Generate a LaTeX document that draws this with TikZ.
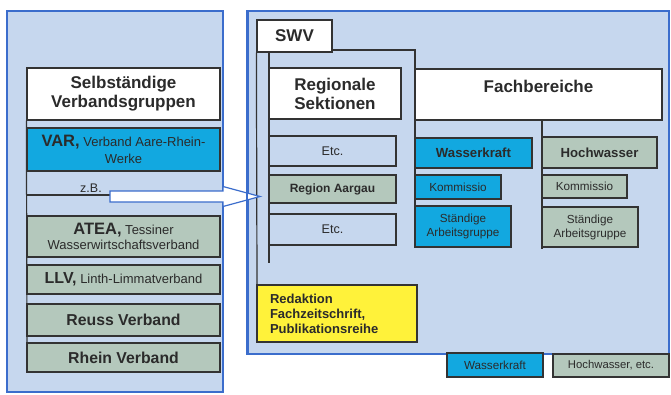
\documentclass[tikz,border=0pt]{standalone}
\usepackage{fontspec}
\setmainfont{Liberation Sans}
\definecolor{panelfill}{HTML}{C6D7EE}
\definecolor{panelline}{HTML}{3B6DCC}
\definecolor{boxline}{HTML}{333333}
\definecolor{txt}{HTML}{2B2B2B}
\definecolor{cyanbox}{HTML}{12A8E0}
\definecolor{greybox}{HTML}{B4C8BC}
\definecolor{yellowbox}{HTML}{FFF23A}
\tikzset{
  panel/.style={draw=panelline, line width=1.8pt, fill=panelfill, inner sep=0pt, anchor=north west},
  base/.style={draw=boxline, line width=1.2pt, inner sep=0pt, text=txt, align=center},
  whitebox/.style={base, fill=white, font=\fontsize{17}{19}\selectfont\bfseries},
  cyanb/.style={base, fill=cyanbox},
  greyb/.style={base, fill=greybox},
  plainb/.style={base, fill=panelfill},
  conn/.style={draw=boxline, line width=1.2pt},
  bigb/.style={font=\fontsize{15.8}{17}\selectfont\bfseries},
  midb/.style={font=\fontsize{13.2}{15}\selectfont\bfseries},
  small/.style={font=\fontsize{11.7}{14}\selectfont},
}
\begin{document}
\begin{tikzpicture}[x=1pt,y=-1pt]
\useasboundingbox (0,0) rectangle (671,394);
\fill[white] (0,0) rectangle (671,394);
% panels
\node[panel, minimum width=216pt, minimum height=381pt] (lpanel) at (6,10) {};
\node[panel, minimum width=421pt, minimum height=343pt] (rpanel) at (247,10) {};

% connectors left
\coordinate (zbtail) at (110,195);
% boxes left
\node[whitebox, minimum width=193pt, minimum height=52pt] (selb) at (123.5,94) {Selbständige\\Verbandsgruppen};
\draw[conn] (selb.south west) -- (27,343);
\draw[conn] (selb.south west |- zbtail) -- (zbtail);
\node[cyanb, minimum width=193pt, minimum height=43pt, font=\fontsize{13}{17}\selectfont] (var) at (123.5,149.5)
  {{\fontsize{16.5}{17}\selectfont\bfseries VAR,} Verband Aare-Rhein-\\Werke};
\node[text=txt, anchor=base, font=\fontsize{12.5}{14}\selectfont] (zb) at (91,192.5) {z.B.};
\node[greyb, minimum width=193pt, minimum height=41pt, font=\fontsize{13}{15.5}\selectfont] (atea) at (123.5,236.5)
  {{\fontsize{16.5}{15.5}\selectfont\bfseries ATEA,} Tessiner\\Wasserwirtschaftsverband};
\node[greyb, minimum width=193pt, minimum height=29pt, font=\fontsize{13}{15}\selectfont] (llv) at (123.5,279.5)
  {{\fontsize{16}{15}\selectfont\bfseries LLV,} Linth-Limmatverband};
\node[greyb, bigb, minimum width=193pt, minimum height=32pt] (reuss) at (123.5,320) {Reuss Verband};
\node[greyb, bigb, minimum width=193pt, minimum height=29pt] (rhein) at (123.5,357.5) {Rhein Verband};

% right connectors
\coordinate (topc) at (415,50);
\coordinate (regend) at (269,263);
\coordinate (hwend) at (542,249);
\node[whitebox, minimum width=75pt, minimum height=32pt] (swv) at (294.5,36) {SWV};
\draw[conn] (swv.east |- topc) -- (topc) -- (415,247);
\draw[conn] (swv.south -| regend) -- (regend);
\draw[conn] (swv.south west) -- (257,285);
\draw[conn] (542,120) -- (hwend);

\node[whitebox, minimum width=132pt, minimum height=51pt] (regsek) at (335,93.5) {Regionale\\Sektionen};
\node[whitebox, minimum width=247pt, minimum height=51pt] (fach) at (538.5,94.5) {Fachbereiche\\[-3pt]};
\node[plainb, minimum width=127pt, minimum height=30pt, font=\fontsize{12.6}{14}\selectfont] (etc1) at (332.5,151) {Etc.};
\node[greyb, minimum width=127pt, minimum height=28pt, font=\fontsize{12}{14}\selectfont\bfseries] (aargau) at (332.5,189) {Region Aargau};
\node[plainb, minimum width=127pt, minimum height=31pt, font=\fontsize{12.6}{14}\selectfont] (etc2) at (332.5,229.5) {Etc.};

\node[cyanb, midb, minimum width=117pt, minimum height=30pt] (wk) at (473.5,153) {Wasserkraft};
\node[cyanb, small, minimum width=86pt, minimum height=24pt] (wkk) at (458,187) {Kommissio};
\node[cyanb, small, minimum width=96pt, minimum height=41pt] (wks) at (463,226.5) {Ständige\\Arbeitsgruppe};
\node[greyb, midb, minimum width=115pt, minimum height=31pt] (hw) at (599.5,152.5) {Hochwasser};
\node[greyb, small, minimum width=85pt, minimum height=23pt] (hwk) at (584.5,186.5) {Kommissio};
\node[greyb, small, minimum width=96pt, minimum height=40pt] (hws) at (590,227) {Ständige\\Arbeitsgruppe};

\node[base, fill=yellowbox, minimum width=160pt, minimum height=57pt, text width=134pt, align=left, inner xsep=13pt,
  font=\fontsize{13}{15}\selectfont\bfseries] (red) at (337,313.5) {Redaktion\\Fachzeitschrift,\\Publikationsreihe};

% legend
\node[cyanb, small, minimum width=96pt, minimum height=24pt] (leg1) at (495,365) {Wasserkraft};
\node[greyb, font=\fontsize{11.3}{13}\selectfont, minimum width=116pt, minimum height=23pt] (leg2) at (611,365.5) {Hochwasser, etc.};

% arrow from z.B. towards SWV
\coordinate (tip) at (260,196.5);
\draw[draw=panelline, line width=1.2pt, fill=white, line join=miter]
  (zbtail |- 0,191) -- (223,191) -- (223,186.5) -- (tip) -- (223,206.5) -- (223,202) -- (zbtail |- 0,202) -- cycle;
\draw[draw=panelline, line width=1.8pt] (rpanel.north west) -- (rpanel.south west);
\end{tikzpicture}
\end{document}
